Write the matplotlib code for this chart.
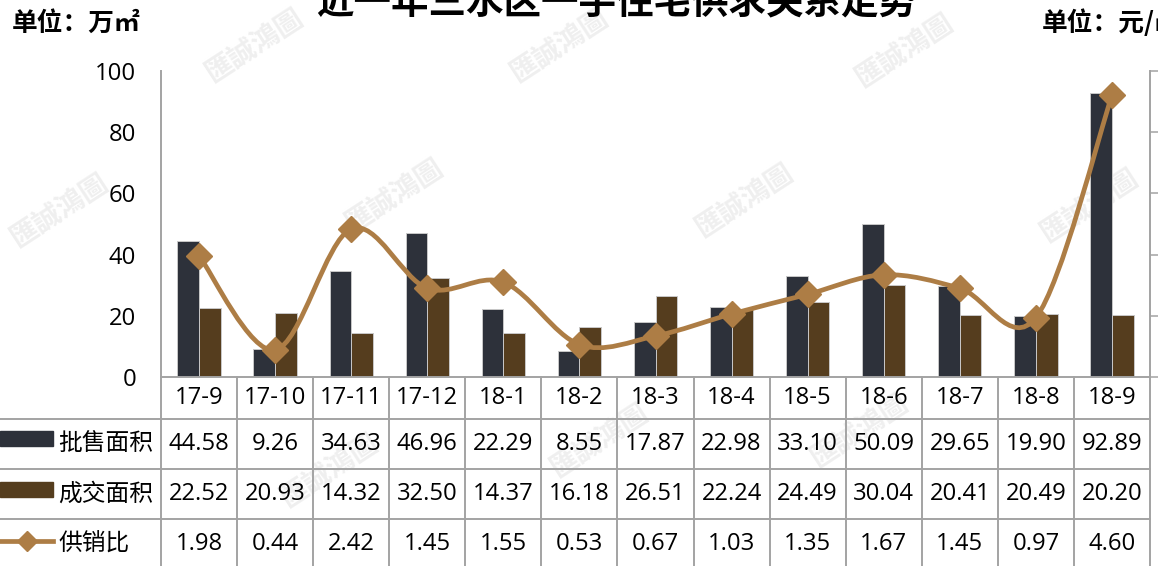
import numpy as np
import matplotlib
matplotlib.use("Agg")
import matplotlib.pyplot as plt
from matplotlib.path import Path
from matplotlib.patches import PathPatch, Rectangle
from matplotlib.lines import Line2D
from matplotlib.transforms import blended_transform_factory

plt.rcParams['font.family'] = ['Open Sans', 'Noto Sans CJK SC', 'DejaVu Sans']

# ---- data ----
months = ["17-9", "17-10", "17-11", "17-12", "18-1", "18-2", "18-3",
          "18-4", "18-5", "18-6", "18-7", "18-8", "18-9"]
supply = [44.58, 9.26, 34.63, 46.96, 22.29, 8.55, 17.87,
          22.98, 33.10, 50.09, 29.65, 19.90, 92.89]
sold = [22.52, 20.93, 14.32, 32.50, 14.37, 16.18, 26.51,
        22.24, 24.49, 30.04, 20.41, 20.49, 20.20]
ratio = [1.98, 0.44, 2.42, 1.45, 1.55, 0.53, 0.67,
         1.03, 1.35, 1.67, 1.45, 0.97, 4.60]
series_names = ["批售面积", "成交面积", "供销比"]
left_ticks = [0, 20, 40, 60, 80, 100]
right_ticks = [0, 1, 2, 3, 4, 5]

title = "近一年三水区一手住宅供求关系走势"
unit_left = "单位：万㎡"
unit_right = "单位：元/㎡"

# ---- style ----
W, H = 1158, 566
C_SUPPLY = "#2d313a"
C_SOLD = "#553d1e"
C_LINE = "#ad7d45"
C_GRID = "#a3a3a3"
FS = 17.1
CJK = ['Noto Sans CJK SC', 'DejaVu Sans']

fig = plt.figure(figsize=(W / 100, H / 100), dpi=100)
fig.patch.set_facecolor("white")

# pixel-space overlay (origin top-left)
ov = fig.add_axes([0, 0, 1, 1], zorder=0)
ov.set_xlim(0, W)
ov.set_ylim(H, 0)
ov.axis("off")

# plot area
L, R, T, B = 161, 1150, 71, 377
ax = fig.add_axes([L / W, 1 - B / H, (R - L) / W, (B - T) / H], zorder=2)
ax.patch.set_alpha(0)
n = len(months)
x = np.arange(n)
ax.set_xlim(-0.5, n - 0.5)
ax.set_ylim(0, 100)

bw = 0.285
ax.bar(x - bw / 2, supply, bw, color=C_SUPPLY, edgecolor="#c8c8c8", linewidth=0.7, zorder=2)
ax.bar(x + bw / 2, sold, bw, color=C_SOLD, edgecolor="#c8c8c8", linewidth=0.7, zorder=2)

ax.set_yticks(left_ticks)
ax.tick_params(axis="y", length=0, pad=18, labelsize=FS)
ax.set_xticks([])
for s in ["top", "right", "left"]:
    ax.spines[s].set_visible(False)
ax.spines["bottom"].set_color(C_GRID)
ax.spines["bottom"].set_linewidth(1.4)

# secondary axis for the ratio line
ax2 = ax.twinx()
ax2.set_ylim(0, 5)
ax2.set_yticks(right_ticks)
ax2.set_yticklabels([])
ax2.tick_params(axis="y", direction="out", length=9, width=1.1, color=C_GRID)
for s in ["top", "left", "bottom", "right"]:
    ax2.spines[s].set_visible(False)

# smooth curve (cubic Bezier through each point)
pts = np.column_stack([x, ratio]).astype(float)
ext = np.vstack([pts[0], pts, pts[-1]])
verts = [tuple(pts[0])]
codes = [Path.MOVETO]
for i in range(n - 1):
    p0, p1, p2, p3 = ext[i], ext[i + 1], ext[i + 2], ext[i + 3]
    c1 = p1 + (p2 - p0) / 6.0
    c2 = p2 - (p3 - p1) / 6.0
    verts += [tuple(c1), tuple(c2), tuple(p2)]
    codes += [Path.CURVE4] * 3
ax2.add_patch(PathPatch(Path(verts, codes), facecolor="none", edgecolor=C_LINE,
                        linewidth=3.4, capstyle="round", zorder=3))
ax2.plot(x, ratio, linestyle="none", marker="D", markersize=13,
         color=C_LINE, zorder=4)

# ---- data table ----
fig.canvas.draw()
bx = blended_transform_factory(ax.transData, ov.transData)
row_edges = [377, 418.5, 469, 519, 570]
row_mid = [(row_edges[i] + row_edges[i + 1]) / 2 for i in range(4)]
lw_g = 1.4

# vertical lines (full height on plot sides, column separators in table)
ov.plot([L, L], [T, H], color=C_GRID, lw=lw_g, zorder=1)
ov.plot([R, R], [T, H], color=C_GRID, lw=lw_g, zorder=1)
for k in range(1, n):
    ov.plot([k - 0.5, k - 0.5], [377, H], color=C_GRID, lw=lw_g,
            transform=bx, clip_on=False, zorder=1)
# horizontal lines
for yy in row_edges[1:4]:
    ov.plot([0, R], [yy, yy], color=C_GRID, lw=lw_g, zorder=1)

for i in range(n):
    ov.text(i, row_mid[0], months[i], transform=bx, ha="center", va="center",
            fontsize=FS, color="black")
    ov.text(i, row_mid[1], f"{supply[i]:.2f}", transform=bx, ha="center",
            va="center", fontsize=FS, color="black")
    ov.text(i, row_mid[2], f"{sold[i]:.2f}", transform=bx, ha="center",
            va="center", fontsize=FS, color="black")
    ov.text(i, row_mid[3], f"{ratio[i]:.2f}", transform=bx, ha="center",
            va="center", fontsize=FS, color="black")

# legend keys inside the table
ov.add_patch(Rectangle((0, 431), 53, 15, color=C_SUPPLY, zorder=2))
ov.add_patch(Rectangle((0, 482), 53, 15, color=C_SOLD, zorder=2))
ov.add_line(Line2D([0, 53], [541, 541], color=C_LINE, lw=3.4, zorder=2))
ov.add_line(Line2D([27], [541], marker="D", markersize=10, color=C_LINE, zorder=3))
for yy, name in zip(row_mid[1:], series_names):
    ov.text(58, yy, name, ha="left", va="center", fontsize=FS, color="black",
            family=CJK)

# watermark
wm_pos = [(60, 210), (255, 45), (395, 195), (560, 45), (745, 200),
          (905, 50), (1090, 205), (600, 440), (860, 430), (330, 470)]
for (wx, wy) in wm_pos:
    ov.text(wx, wy, "匯誠鴻圖", rotation=33, ha="center", va="center",
            fontsize=20, color="#dcdcdc", alpha=0.45, fontweight="bold",
            family=["Noto Sans CJK TC", "DejaVu Sans"], zorder=0.5)

# titles and units
ov.text(616, 13, title, ha="center", va="baseline", fontsize=27,
        fontweight="bold", color="black", family=CJK)
ov.text(12, 23, unit_left, ha="left", va="center", fontsize=18.5,
        fontweight="bold", color="black", family=CJK)
ov.text(1042, 23, unit_right, ha="left", va="center", fontsize=18.5,
        fontweight="bold", color="black", family=CJK)

fig.savefig("out.png", dpi=100)
